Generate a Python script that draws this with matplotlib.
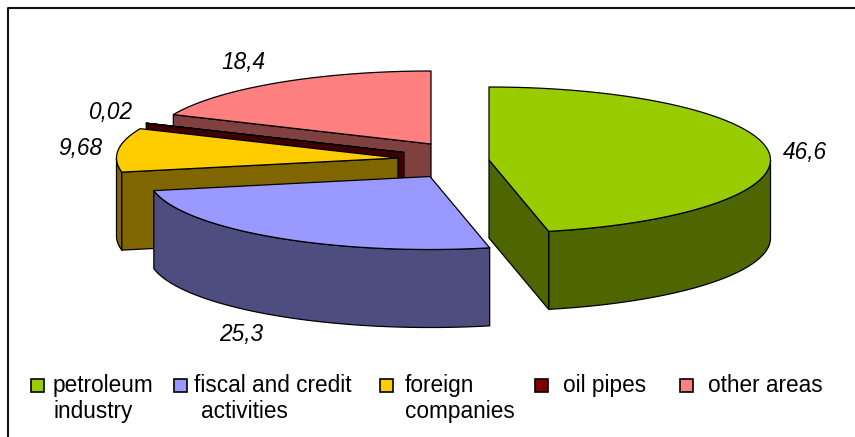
import numpy as np
import matplotlib
matplotlib.use('Agg')
import matplotlib.pyplot as plt
from matplotlib.patches import Polygon, Rectangle

# ─── Data ────────────────────────────────────────
categories = ['petroleum\nindustry', 'fiscal and credit\n activities',
              'foreign\ncompanies', 'oil pipes', 'other areas']
values = [46.6, 25.3, 9.68, 0.02, 18.4]
value_labels = ['46,6', '25,3', '9,68', '0,02', '18,4']

top_colors = ['#99CC00', '#9999FF', '#FFCC00', '#800000', '#FF8080']
side_colors = ['#4D6600', '#4D4D80', '#806600', '#400000', '#804040']

# exploded centre of every slice, in pixels
centers = [(489, 160), (430, 176.5), (398, 158), (404, 152.5), (431, 144)]
label_pos = [(805, 152), (241, 335), (80, 148), (110, 113), (243, 62)]

RX = 281.5     # ellipse half width
RY = 73.0      # ellipse half height
DEPTH = 78.0   # pie thickness

plt.rcParams['font.family'] = ['Liberation Sans', 'DejaVu Sans']
fig = plt.figure(figsize=(8.55, 4.37), dpi=100)
ax = fig.add_axes([0, 0, 1, 1])
ax.set_xlim(0, 855)
ax.set_ylim(437, 0)
ax.axis('off')


def rim(cx, cy, a0, a1, n=80):
    # angle is clockwise from the top of the pie
    t = np.radians(np.linspace(a0, a1, n))
    return np.column_stack([cx + RX * np.sin(t), cy - RY * np.cos(t)])


def face(pts, color, z):
    ax.add_patch(Polygon(pts, closed=True, facecolor=color, edgecolor='black',
                         lw=0.9, joinstyle='round', zorder=z))


drop = np.array([0, DEPTH])
edges = np.concatenate([[0], np.cumsum(values)]) * 3.6

# back slices first, so the front ones cover them
for z, i in enumerate([4, 3, 2, 1, 0]):
    a0, a1 = edges[i], edges[i + 1]
    cx, cy = centers[i]
    c = np.array([cx, cy])
    z0 = z * 10

    # outer wall, only the part that faces the viewer
    v0, v1 = max(a0, 90), min(a1, 270)
    if v1 > v0:
        r = rim(cx, cy, v0, v1)
        face(np.vstack([r, (r + drop)[::-1]]), side_colors[i], z0 + 1)

    # cut walls
    if a0 > 180:
        p = rim(cx, cy, a0, a0, 1)[0]
        face([c, p, p + drop, c + drop], side_colors[i], z0 + 2)
    if a1 < 180:
        p = rim(cx, cy, a1, a1, 1)[0]
        face([c, p, p + drop, c + drop], side_colors[i], z0 + 2)

    face(np.vstack([c, rim(cx, cy, a0, a1)]), top_colors[i], z0 + 3)

for (x, y), s in zip(label_pos, value_labels):
    ax.text(x, y, s, fontsize=16.3, style='italic', ha='center', va='center',
            color='black', zorder=100)

# ─── Legend ──────────────────────────────────────
swatch_x = [30.5, 173.5, 380, 535, 680]
text_x = [53, 194, 405, 563, 708]
for i, s in enumerate(categories):
    ax.add_patch(Rectangle((swatch_x[i], 378.5), 13, 13, facecolor=top_colors[i],
                           edgecolor='black', lw=1.2, zorder=100))
    ax.text(text_x[i], 392, s.split('\n')[0], fontsize=16.3, va='baseline', zorder=100)
    if '\n' in s:
        x2 = 201 if i == 1 else text_x[i]
        ax.text(x2, 418, s.split('\n')[1].strip(), fontsize=16.3, va='baseline', zorder=100)

# ─── Frame ───────────────────────────────────────
ax.plot([7.5, 7.5, 855], [437, 7.5, 7.5], color='#111111', lw=1.5, zorder=100)

fig.savefig('out.png', dpi=100)
